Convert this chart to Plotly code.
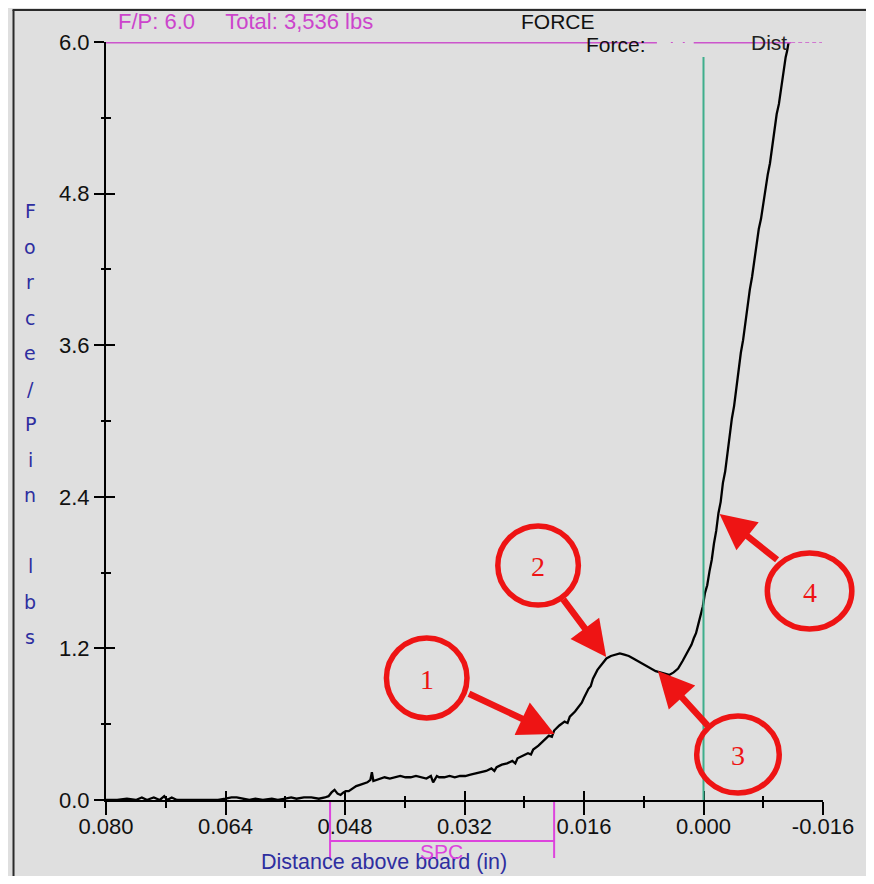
import plotly.graph_objects as go

# ---------------- data ----------------
distance_in = [
    0.0800, 0.0785, 0.0772, 0.0760, 0.0752, 0.0745, 0.0741, 0.0736, 0.0728, 0.0722,
    0.0718, 0.0712, 0.0705, 0.0690, 0.0670, 0.0650, 0.0640, 0.0632, 0.0625, 0.0616,
    0.0608, 0.0600, 0.0590, 0.0578, 0.0570, 0.0560, 0.0552, 0.0545, 0.0535, 0.0525,
    0.0515, 0.0507, 0.0502, 0.0498, 0.0494, 0.0490, 0.0486, 0.0482, 0.0479, 0.0475,
    0.0470, 0.0465, 0.0460, 0.0455, 0.0450, 0.0446, 0.0444, 0.0442, 0.0437, 0.0432,
    0.0427, 0.0420, 0.0413, 0.0406, 0.0399, 0.0392, 0.0385, 0.0378, 0.0371, 0.0365,
    0.0362, 0.0360, 0.0357, 0.0354, 0.0347, 0.0340, 0.0333, 0.0326, 0.0319, 0.0312,
    0.0305, 0.0298, 0.0291, 0.0284, 0.0280, 0.0277, 0.0270, 0.0263, 0.0256, 0.0252,
    0.0249, 0.0242, 0.0235, 0.0231, 0.0228, 0.0221, 0.0214, 0.0207, 0.0203, 0.0200,
    0.0193, 0.0186, 0.0182, 0.0179, 0.0172, 0.0166, 0.0163, 0.0160, 0.0154, 0.0151,
    0.0148, 0.0142, 0.0136, 0.0130, 0.0124, 0.0118, 0.0112, 0.0106, 0.0100, 0.0094,
    0.0088, 0.0082, 0.0076, 0.0070, 0.0064, 0.0058, 0.0052, 0.0046, 0.0040, 0.0034,
    0.0028, 0.0022, 0.0016, 0.0013, 0.0010, 0.0007, 0.0004, 0.0001, -0.0002, -0.0005,
    -0.0008, -0.0011, -0.0014, -0.0017, -0.0020, -0.0023, -0.0026, -0.0029, -0.0032, -0.0035,
    -0.0038, -0.0041, -0.0044, -0.0047, -0.0050, -0.0053, -0.0056, -0.0059, -0.0062, -0.0065,
    -0.0068, -0.0071, -0.0074, -0.0077, -0.0080, -0.0083, -0.0086, -0.0089, -0.0092, -0.0095,
    -0.0098, -0.0101, -0.0104, -0.0107, -0.0110, -0.0112, -0.0114,
]
force_per_pin = [
    0.00, 0.00, 0.01, 0.00, 0.02, 0.00, 0.01, 0.02, 0.00, 0.03,
    0.00, 0.02, 0.00, 0.00, 0.00, 0.00, 0.01, 0.02, 0.02, 0.01,
    0.00, 0.01, 0.00, 0.01, 0.00, 0.01, 0.02, 0.01, 0.02, 0.02,
    0.01, 0.02, 0.03, 0.06, 0.08, 0.05, 0.04, 0.06, 0.07, 0.07,
    0.09, 0.11, 0.12, 0.13, 0.14, 0.16, 0.22, 0.15, 0.16, 0.17,
    0.18, 0.17, 0.18, 0.19, 0.18, 0.18, 0.19, 0.18, 0.17, 0.19,
    0.14, 0.16, 0.19, 0.18, 0.18, 0.19, 0.18, 0.19, 0.19, 0.20,
    0.21, 0.22, 0.23, 0.25, 0.23, 0.26, 0.28, 0.29, 0.31, 0.29,
    0.33, 0.35, 0.37, 0.36, 0.40, 0.43, 0.47, 0.51, 0.50, 0.55,
    0.59, 0.62, 0.61, 0.66, 0.70, 0.75, 0.77, 0.81, 0.88, 0.90,
    0.96, 1.03, 1.08, 1.12, 1.14, 1.15, 1.16, 1.15, 1.14, 1.12,
    1.10, 1.08, 1.06, 1.04, 1.02, 1.01, 1.00, 0.99, 1.01, 1.04,
    1.10, 1.17, 1.23, 1.28, 1.32, 1.39, 1.45, 1.53, 1.64, 1.70,
    1.81, 1.90, 2.03, 2.13, 2.27, 2.36, 2.51, 2.60, 2.74, 2.90,
    3.02, 3.12, 3.26, 3.42, 3.54, 3.64, 3.79, 3.93, 4.04, 4.14,
    4.26, 4.41, 4.52, 4.60, 4.72, 4.86, 4.95, 5.04, 5.17, 5.32,
    5.43, 5.51, 5.64, 5.78, 5.88, 5.93, 6.00,
]

x_tick_vals = [0.080, 0.064, 0.048, 0.032, 0.016, 0.000, -0.016]
x_tick_text = ["0.080", "0.064", "0.048", "0.032", "0.016", "0.000", "-0.016"]
x_minor_vals = [0.072, 0.056, 0.040, 0.024, 0.008, -0.008]
y_tick_vals = [0.0, 1.2, 2.4, 3.6, 4.8, 6.0]
y_tick_text = ["0.0", "1.2", "2.4", "3.6", "4.8", "6.0"]
y_minor_vals = [0.6, 1.8, 3.0, 4.2, 5.4]

x_range = [0.080, -0.016]
y_range = [0.0, 6.0]
fp_limit = 6.0
board_distance = 0.000
spc_window = [0.050, 0.020]
header_left = "F/P: 6.0     Total: 3,536 lbs"
chart_title = "FORCE"
y_title_letters = ["F", "o", "r", "c", "e", "/", "P", "i", "n", "", "l", "b", "s"]
x_title = "Distance above board (in)"
callouts = ["1", "2", "3", "4"]

# ---------------- layout geometry (screen pixels) ----------------
BODY = 8                      # default page margin around the plot div
WIN_W, WIN_H = 874, 884
FIG_W, FIG_H = WIN_W - 2 * BODY, WIN_H - 2 * BODY
L, T, PW, PH = 106, 42, 721, 758          # plot area on screen
ML, MT = L - BODY, T - BODY
MR = FIG_W - ML - PW
MB = FIG_H - MT - PH


def pxx(px):
    return (px - L) / PW


def pxy(py):
    return (T + PH - py) / PH


RED = "#ee1414"
MAG = "#cc55cc"
BLUE = "#2e2ea0"
SANS = "Liberation Sans, Arial, sans-serif"
TICKFONT = dict(family=SANS, size=22, color="#111111")

fig = go.Figure()

fig.add_trace(go.Scatter(
    x=distance_in, y=force_per_pin, mode="lines",
    line=dict(color="black", width=2.3), hoverinfo="skip", showlegend=False,
))
# invisible trace to host the overlay axes (inside halves of crossing ticks)
fig.add_trace(go.Scatter(x=[], y=[], xaxis="x2", yaxis="y2", showlegend=False))

fig.update_layout(
    width=FIG_W, height=FIG_H,
    margin=dict(l=ML, r=MR, t=MT, b=MB, pad=0),
    paper_bgcolor="#dfdfdf", plot_bgcolor="#dfdfdf",
    showlegend=False,
    xaxis=dict(
        range=x_range, showgrid=False, zeroline=False,
        showline=True, linecolor="black", linewidth=2,
        tickmode="array", tickvals=x_tick_vals, ticktext=x_tick_text,
        ticks="outside", ticklen=13, tickwidth=2, tickcolor="black",
        minor=dict(tickmode="array", tickvals=x_minor_vals, ticks="outside",
                   ticklen=6, tickwidth=2, tickcolor="black", showgrid=False),
        tickfont=TICKFONT, ticklabelstandoff=-7,
    ),
    yaxis=dict(
        range=y_range, showgrid=False, zeroline=False,
        showline=True, linecolor="black", linewidth=2,
        tickmode="array", tickvals=y_tick_vals, ticktext=y_tick_text,
        ticks="outside", ticklen=10, tickwidth=2, tickcolor="black",
        minor=dict(tickmode="array", tickvals=y_minor_vals, ticks="outside",
                   ticklen=3, tickwidth=2, tickcolor="black", showgrid=False),
        tickfont=TICKFONT, ticklabelstandoff=0,
    ),
    xaxis2=dict(
        range=x_range, overlaying="x", anchor="y2", side="bottom",
        showgrid=False, zeroline=False, showline=False, showticklabels=False,
        tickmode="array", tickvals=x_tick_vals,
        ticks="inside", ticklen=9, tickwidth=2, tickcolor="black",
        minor=dict(tickmode="array", tickvals=x_minor_vals, ticks="inside",
                   ticklen=4, tickwidth=2, tickcolor="black", showgrid=False),
    ),
    yaxis2=dict(
        range=y_range, overlaying="y", anchor="x2", side="left",
        showgrid=False, zeroline=False, showline=False, showticklabels=False,
        tickmode="array", tickvals=y_tick_vals,
        ticks="inside", ticklen=9, tickwidth=2, tickcolor="black",
        minor=dict(tickmode="array", tickvals=y_minor_vals, ticks="inside",
                   ticklen=5, tickwidth=2, tickcolor="black", showgrid=False),
    ),
)

shapes = []
# outer frame
frame = dict(color="#2a2a2a", width=2)
shapes.append(dict(type="line", xref="paper", yref="paper",
                   x0=pxx(12), x1=pxx(880), y0=pxy(10), y1=pxy(10), line=frame))
shapes.append(dict(type="line", xref="paper", yref="paper",
                   x0=pxx(13), x1=pxx(13), y0=pxy(10), y1=pxy(876), line=frame))
# F/P limit line along top and legend-like samples
shapes.append(dict(type="line", xref="paper", yref="y", x0=0, x1=pxx(660),
                   y0=fp_limit, y1=fp_limit, line=dict(color=MAG, width=3)))
for dx in (675, 687):
    shapes.append(dict(type="line", xref="paper", yref="y", x0=pxx(dx - 1), x1=pxx(dx + 1),
                       y0=fp_limit, y1=fp_limit, line=dict(color=MAG, width=2)))
shapes.append(dict(type="line", xref="paper", yref="y", x0=pxx(697), x1=pxx(795),
                   y0=fp_limit, y1=fp_limit, line=dict(color=MAG, width=3)))
shapes.append(dict(type="line", xref="paper", yref="y", x0=pxx(795), x1=pxx(826),
                   y0=fp_limit, y1=fp_limit, line=dict(color=MAG, width=1.5, dash="4px,3px")))
# board (zero) line
shapes.append(dict(type="line", xref="x", yref="paper", x0=board_distance, x1=board_distance,
                   y0=0, y1=pxy(57), line=dict(color="#3fae8c", width=2)))
# SPC bracket
shapes.append(dict(type="line", xref="x", yref="paper", x0=spc_window[0], x1=spc_window[1],
                   y0=pxy(841), y1=pxy(841), line=dict(color="#dd44dd", width=2)))
for sx in spc_window:
    shapes.append(dict(type="line", xref="x", yref="paper", x0=sx, x1=sx,
                       y0=pxy(802), y1=pxy(858), line=dict(color="#dd44dd", width=2)))
# red callout circles (pixel boxes)
circle_boxes = [(388, 638, 469, 718), (500, 526, 581, 605), (700, 716, 783, 793), (771, 553, 856, 629)]
for (x0, y0, x1, y1) in circle_boxes:
    shapes.append(dict(type="circle", xref="paper", yref="paper",
                       x0=pxx(x0), x1=pxx(x1), y0=pxy(y1), y1=pxy(y0),
                       line=dict(color=RED, width=5.5)))
fig.update_layout(shapes=shapes)

ann = []
# header texts
ann.append(dict(text=header_left, xref="paper", yref="paper", x=pxx(116), y=pxy(21),
                xanchor="left", yanchor="middle", showarrow=False,
                font=dict(family=SANS, size=22, color="#cc44cc")))
ann.append(dict(text=chart_title, xref="paper", yref="paper", x=pxx(561), y=pxy(21),
                xanchor="center", yanchor="middle", showarrow=False,
                font=dict(family=SANS, size=21, color="#111111")))
ann.append(dict(text="Force:", xref="paper", yref="paper", x=pxx(619), y=pxy(44),
                xanchor="center", yanchor="middle", showarrow=False,
                font=dict(family=SANS, size=21, color="#111111")))
ann.append(dict(text="Dist", xref="paper", yref="paper", x=pxx(773), y=pxy(43),
                xanchor="center", yanchor="middle", showarrow=False,
                font=dict(family=SANS, size=21, color="#222222")))
# axis titles
for i, ch in enumerate(y_title_letters):
    if ch:
        ann.append(dict(text=ch, xref="paper", yref="paper", x=pxx(30), y=pxy(211 + i * 35.5),
                        xanchor="center", yanchor="middle", showarrow=False,
                        font=dict(family="DejaVu Sans, Verdana", size=19, color=BLUE)))
ann.append(dict(text=x_title, xref="paper", yref="paper", x=pxx(386), y=pxy(862),
                xanchor="center", yanchor="middle", showarrow=False,
                font=dict(family=SANS, size=21.5, color=BLUE)))
ann.append(dict(text="SPC", xref="paper", yref="paper", x=pxx(443), y=pxy(851),
                xanchor="center", yanchor="middle", showarrow=False,
                font=dict(family=SANS, size=21, color="#dd44dd")))
# callout numbers
for label, (x0, y0, x1, y1) in zip(callouts, circle_boxes):
    ann.append(dict(text=label, xref="paper", yref="paper",
                    x=pxx((x0 + x1) / 2), y=pxy((y0 + y1) / 2 + 1),
                    xanchor="center", yanchor="middle", showarrow=False,
                    font=dict(family="Liberation Serif, Times New Roman, serif", size=28, color=RED)))
# arrows: (tail px, tip px)
arrows = [((470, 693), (557, 734)), ((565, 598), (609, 657)),
          ((712, 727), (661, 671)), ((782, 561), (723, 514))]
for (tx, ty), (hx, hy) in arrows:
    ann.append(dict(text="", xref="paper", yref="paper", x=pxx(hx), y=pxy(hy),
                    ax=tx - hx, ay=ty - hy, showarrow=True, arrowhead=2,
                    arrowsize=1.1, arrowwidth=6.5, arrowcolor=RED, standoff=0))
fig.update_layout(annotations=ann)

fig.write_html("out.html")
